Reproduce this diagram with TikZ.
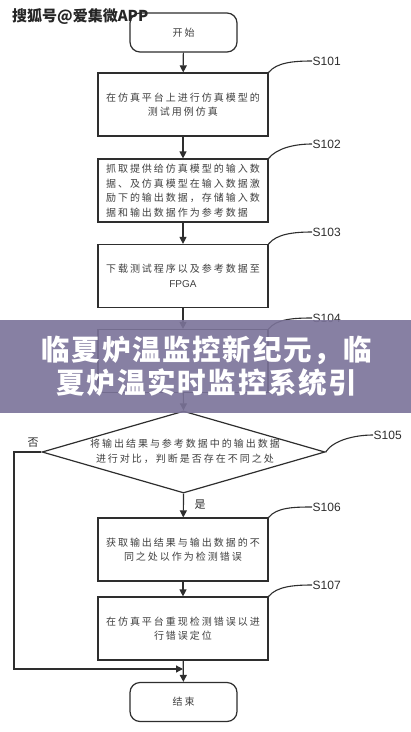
\documentclass[tikz,border=0pt]{standalone}
\usepackage{fontspec}
\setmainfont{Liberation Sans}
\newfontfamily\cjk{Noto Sans CJK SC}
\newfontfamily\cjksp{Noto Sans CJK SC}[LetterSpace=20]
\newfontfamily\cjkban{Noto Sans CJK SC}[LetterSpace=6]
\usetikzlibrary{arrows.meta,shapes.geometric}
\definecolor{ln}{HTML}{2E2E2E}
\definecolor{tx}{HTML}{404040}
\definecolor{ban}{HTML}{7B7399}
\begin{document}
\begin{tikzpicture}[x=1pt,y=-1pt,
  box/.style={draw=ln, line width=1.2pt, minimum width=170pt, minimum height=63pt, inner sep=0pt,
    font=\cjksp\fontsize{10}{14.5}\selectfont, text=tx, align=center},
  term/.style={draw=ln, line width=1.2pt, rounded corners=10pt, minimum width=107pt, minimum height=39pt,
    font=\cjksp\fontsize{10}{12}\selectfont, text=tx},
  arr/.style={draw=ln, line width=1.2pt, -{Triangle[length=7pt,width=7pt]}},
  lab/.style={font=\fontsize{12}{14}\selectfont, text=ln, inner sep=0.5pt, anchor=west},
  lead/.style={draw=ln, line width=1.1pt},
  yn/.style={font=\cjk\fontsize{11}{12}\selectfont, text=ln, inner sep=0pt},
]
\useasboundingbox (0,0) rectangle (411,732);
\fill[white] (0,0) rectangle (411,732);

% nodes
\node[term] (start) at (183.5,32.5) {开始};
\node[box] (s101) at (183,104.5) {在仿真平台上进行仿真模型的\\测试用例仿真};
\node[box, align=left] (s102) at (183,190.5) {抓取提供给仿真模型的输入数\\据、及仿真模型在输入数据激\\励下的输出数据，存储输入数\\据和输出数据作为参考数据};
\node[box] (s103) at (183,276) {下载测试程序以及参考数据至\\{\rmfamily\fontsize{10}{14.5}\selectfont FPGA}};
\node[box] (s104) at (183,361) {};
\node[diamond, draw=ln, line width=1.2pt, minimum width=283pt, minimum height=82pt, inner sep=0pt] (d) at (183.5,452) {};
\node[font=\cjksp\fontsize{10}{15}\selectfont, text=tx, align=center] (dtext) at (185,451) {将输出结果与参考数据中的输出数据\\进行对比，判断是否存在不同之处};
\node[box] (s106) at (183,549.5) {获取输出结果与输出数据的不\\同之处以作为检测错误};
\node[box] (s107) at (183,628.5) {在仿真平台重现检测错误以进\\行错误定位};
\node[term] (end) at (183.5,702) {结束};

% step labels
\node[lab] (l101) at (312,61) {S101};
\node[lab] (l102) at (312,144) {S102};
\node[lab] (l103) at (312,232) {S103};
\node[lab] (l104) at (312,318) {S104};
\node[lab] (l105) at (373,435) {S105};
\node[lab] (l106) at (312,507) {S106};
\node[lab] (l107) at (312,585) {S107};
\node[yn] (no) at (33,443) {否};
\node[yn] (yes) at (200,505) {是};

% leaders
\draw[lead] (s101.north east) .. controls +(8,-10) and +(-18,0) .. (l101.west);
\draw[lead] (s102.north east) .. controls +(8,-10) and +(-18,0) .. (l102.west);
\draw[lead] (s103.north east) .. controls +(8,-10) and +(-18,0) .. (l103.west);
\draw[lead] (s104.north east) .. controls +(8,-10) and +(-18,0) .. (l104.west);
\draw[lead] (d.east) .. controls +(8,-12) and +(-18,0) .. (l105.west);
\draw[lead] (s106.north east) .. controls +(8,-10) and +(-18,0) .. (l106.west);
\draw[lead] (s107.north east) .. controls +(8,-10) and +(-18,0) .. (l107.west);

% connectors
\draw[arr] (start) -- (s101);
\draw[arr] (s101) -- (s102);
\draw[arr] (s102) -- (s103);
\draw[arr] (s103) -- (s104);
\draw[arr] (s104) -- (d.north);
\draw[arr] (d.south) -- (s106);
\draw[arr] (s106) -- (s107);
\draw[arr] (s107) -- (end);
\coordinate (nl) at (14,669);
\coordinate (jn) at (183,669);
\draw[arr] (d.west) -| (nl) -- (jn);

% overlay banner
\fill[ban, opacity=0.9] (0,320) rectangle (411,413);
\node[font=\cjkban\bfseries\fontsize{28.5}{33}\selectfont, text=white, align=center] (bt) at (207,366.5)
  {临夏炉温监控新纪元，临\\夏炉温实时监控系统引};

% watermark
\node[font=\cjk\bfseries\fontsize{15}{16}\selectfont, text=black!85, anchor=west, inner sep=0pt] (wm) at (12,16) {搜狐号@爱集微APP};
\end{tikzpicture}
\end{document}
